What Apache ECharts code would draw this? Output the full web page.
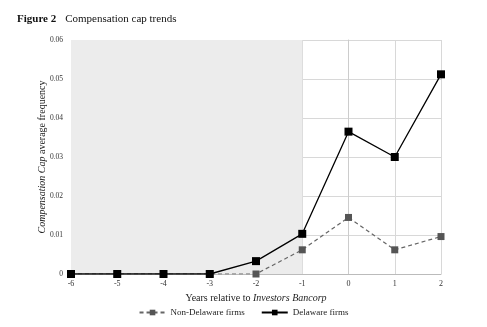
<!DOCTYPE html>
<html><head><meta charset="utf-8">
<script src="https://cdn.jsdelivr.net/npm/echarts@6/dist/echarts.min.js"></script>
<style>html,body{margin:0;padding:0;background:#fff}#c{width:487px;height:327px}</style>
</head><body><div id="c"></div>
<script>
const years = [-6, -5, -4, -3, -2, -1, 0, 1, 2];
const delaware = [0, 0, 0, 0, 0.0033, 0.0103, 0.0365, 0.0300, 0.0512];
const nonDelaware = [0, 0, 0, 0, 0, 0.0062, 0.0145, 0.0062, 0.0096];
const shadedRange = [-6, -1];
const yTicks = [0, 0.01, 0.02, 0.03, 0.04, 0.05, 0.06];

const font = 'Liberation Serif';
const chart = echarts.init(document.getElementById('c'));
chart.setOption({
  animation: false,
  textStyle: {fontFamily: font},
  title: {
    text: '{b|Figure 2}  {n|Compensation cap trends}',
    left: 12, top: 5,
    textStyle: {fontWeight: 'normal', rich: {b: {fontFamily: font, fontWeight: 'bold', fontSize: 11, color: '#111'}, n: {fontFamily: font, fontWeight: 'normal', fontSize: 11, color: '#111'}}}
  },
  grid: {left: 71, right: 46, top: 40, bottom: 53},
  legend: {
    bottom: 5, left: 'center', itemWidth: 26, itemHeight: 7, itemGap: 16,
    textStyle: {fontFamily: font, fontSize: 9, color: '#222'},
    data: ['Non-Delaware firms', 'Delaware firms']
  },
  xAxis: {
    type: 'value', min: years[0], max: years[years.length - 1], interval: 1,
    name: '{n|Years relative to }{i|Investors Bancorp}', nameLocation: 'middle', nameGap: 18,
    nameTextStyle: {rich: {n: {fontFamily: font, fontSize: 10, color: '#222'}, i: {fontFamily: font, fontSize: 10, fontStyle: 'italic', color: '#222'}}},
    axisLine: {lineStyle: {color: '#bbb'}}, axisTick: {show: false},
    axisLabel: {fontSize: 8, color: '#333', margin: 6},
    splitLine: {show: true, lineStyle: {color: '#d8d8d8'}}
  },
  yAxis: {
    type: 'value', min: yTicks[0], max: yTicks[yTicks.length - 1], interval: 0.01,
    name: '{i|Compensation Cap}{n| average frequency}', nameLocation: 'middle', nameGap: 24,
    nameMoveOverlap: false,
    nameTextStyle: {rich: {n: {fontFamily: font, fontSize: 10, color: '#222'}, i: {fontFamily: font, fontSize: 10, fontStyle: 'italic', color: '#222'}}},
    axisLine: {show: true, lineStyle: {color: '#ccc'}}, axisTick: {show: false},
    axisLabel: {fontSize: 7.5, color: '#333', margin: 8, formatter: v => v === 0 ? '0' : v.toFixed(2)},
    splitLine: {show: true, lineStyle: {color: '#d8d8d8'}}
  },
  series: [
    {
      name: 'Non-Delaware firms', type: 'line', z: 2,
      data: years.map((y, i) => [y, nonDelaware[i]]),
      symbol: 'rect', symbolSize: 7,
      itemStyle: {color: '#555'},
      lineStyle: {color: '#666', width: 1.2, type: [4, 3]},
      markArea: {silent: true, itemStyle: {color: '#ececec'}, data: [[{xAxis: shadedRange[0]}, {xAxis: shadedRange[1]}]]}
    },
    {
      name: 'Delaware firms', type: 'line', z: 3,
      data: years.map((y, i) => [y, delaware[i]]),
      symbol: 'rect', symbolSize: 8,
      itemStyle: {color: '#000'},
      lineStyle: {color: '#000', width: 1.3}
    }
  ]
});
</script></body></html>
